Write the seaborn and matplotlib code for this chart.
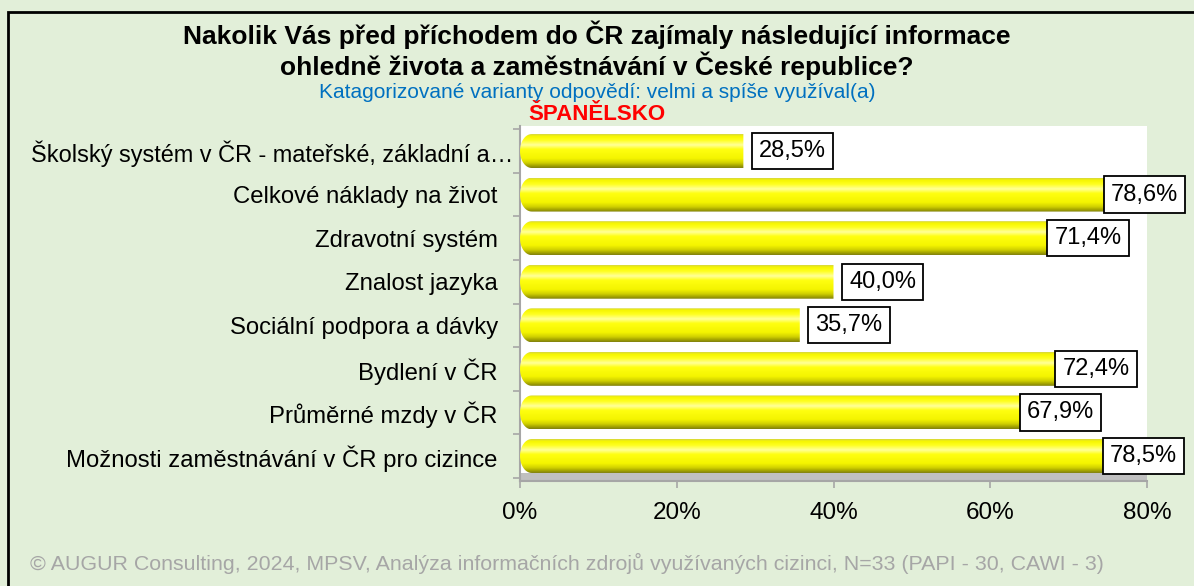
import numpy as np
import pandas as pd
import matplotlib
matplotlib.use("Agg")
import matplotlib.pyplot as plt
import seaborn as sns
from matplotlib.path import Path
from matplotlib.patches import PathPatch, Rectangle
from matplotlib.colors import LinearSegmentedColormap
from matplotlib.transforms import ScaledTranslation

categories = [
    "Školský systém v ČR - mateřské, základní a…",
    "Celkové náklady na život",
    "Zdravotní systém",
    "Znalost jazyka",
    "Sociální podpora a dávky",
    "Bydlení v ČR",
    "Průměrné mzdy v ČR",
    "Možnosti zaměstnávání v ČR pro cizince",
]
values = [28.5, 78.6, 71.4, 40.0, 35.7, 72.4, 67.9, 78.5]
xticks = [0, 20, 40, 60, 80]

title = "Nakolik Vás před příchodem do ČR zajímaly následující informace\nohledně života a zaměstnávání v České republice?"
subtitle = "Katagorizované varianty odpovědí: velmi a spíše využíval(a)"
country = "ŠPANĚLSKO"
footer = "© AUGUR Consulting, 2024, MPSV, Analýza informačních zdrojů využívaných cizinci, N=33 (PAPI - 30, CAWI - 3)"

df = pd.DataFrame({"cat": categories, "val": values})

sns.set_theme(style="white")
plt.rcParams["font.family"] = ["Liberation Sans", "DejaVu Sans"]

BG = "#E2EFD9"
W, H = 1194, 586
fig = plt.figure(figsize=(W / 100, H / 100), dpi=100, facecolor=BG)

# axes placement in pixels
ax_l, ax_r, ax_t, ax_b = 520, 1147, 126, 481
ax = fig.add_axes([ax_l / W, 1 - ax_b / H, (ax_r - ax_l) / W, (ax_b - ax_t) / H])
ax.set_facecolor("white")

sns.barplot(data=df, y="cat", x="val", orient="h", color="#FFFF00",
            width=0.78, ax=ax, zorder=3)

ax.set_xlim(0, 80)
ax.set_ylim(7.574, -0.574)

# cylinder-like gradient on bars
cmap = LinearSegmentedColormap.from_list("cyl", [
    (0.00, "#D6D640"),
    (0.06, "#F6F600"),
    (0.18, "#FFFF20"),
    (0.32, "#FFFF9A"),
    (0.45, "#FFFF10"),
    (0.72, "#F4F400"),
    (0.85, "#CFCF00"),
    (0.94, "#A0A000"),
    (1.00, "#808010"),
])
grad = np.linspace(0, 1, 200).reshape(-1, 1)
rx = 1.5
for p in list(ax.patches):
    x0, y0 = p.get_x(), p.get_y()
    w, h = p.get_width(), p.get_height()
    x1 = x0 + w
    p.set_visible(False)
    yc = y0 + h / 2
    th = np.linspace(np.pi / 2, 3 * np.pi / 2, 30)
    arc = [(x0 + rx + rx * np.cos(t), yc - (h / 2) * np.sin(t)) for t in th]
    verts = [(x1, y0)] + arc + [(x1, y0 + h), (x1, y0)]
    codes = [Path.MOVETO] + [Path.LINETO] * (len(verts) - 2) + [Path.CLOSEPOLY]
    clip = PathPatch(Path(verts, codes), transform=ax.transData,
                     facecolor="none", edgecolor="none")
    ax.add_patch(clip)
    im = ax.imshow(grad, cmap=cmap, extent=(x0, x1, y0 + h, y0), origin="upper",
                   aspect="auto", interpolation="bilinear", zorder=3)
    im.set_clip_path(clip)

ax.set_xlim(0, 80)
ax.set_ylim(7.574, -0.574)

# floor
ax.axhspan(7.39, 7.574, color="#C0C0C0", zorder=1, lw=0)

# data labels
for i, v in enumerate(values):
    lab = f"{v:.1f}".replace(".", ",") + "%"
    xpos = v - 3.2 if v > 60 else v + 2.0
    ax.text(xpos, i, lab, ha="left", va="center", fontsize=17, color="black",
            zorder=6, clip_on=False,
            bbox=dict(boxstyle="square,pad=0.3", facecolor="white",
                      edgecolor="black", linewidth=1.3))

# axes styling
for s in ["top", "right"]:
    ax.spines[s].set_visible(False)
ax.spines["left"].set_color("#A6A6A6")
ax.spines["bottom"].set_color("#A6A6A6")
ax.spines["left"].set_linewidth(1.5)
ax.spines["bottom"].set_linewidth(1.5)

ax.set_xticks(xticks)
ax.set_xticklabels([f"{t}%" for t in xticks])
ax.tick_params(axis="x", length=5, color="#A6A6A6", width=1.2, pad=10,
               labelsize=17.5, labelcolor="black", bottom=True)
ax.set_yticks(range(len(categories)))
ax.set_yticklabels(categories)
ax.tick_params(axis="y", length=0, pad=16, labelsize=17.2, labelcolor="black")
ax.set_yticks(np.arange(-0.5, len(categories), 1.0), minor=True)
ax.tick_params(axis="y", which="minor", length=5, color="#A6A6A6", width=1.2, left=True)
ax.set_xlabel("")
ax.set_ylabel("")
ax.grid(False)

# the truncated first label sits a bit closer to the axis, as in the original
first = ax.get_yticklabels()[0]
first.set_transform(first.get_transform() + ScaledTranslation(0.16, 0, fig.dpi_scale_trans))
first.set_fontsize(16.9)

# titles
fig.text(0.5, 1 - 50 / H, title, ha="center", va="center", fontsize=19,
         fontweight="bold", color="black", linespacing=1.1)
fig.text(0.5, 1 - 92 / H, subtitle, ha="center", va="center", fontsize=15,
         color="#0070C0")
fig.text(0.5, 1 - 115 / H, country, ha="center", va="center", fontsize=16,
         fontweight="bold", color="#FF0000")
fig.text(30 / W, 1 - 563 / H, footer, ha="left", va="center", fontsize=15.4,
         color="#A6A6A6")

# frame border (left and top visible)
fig.add_artist(Rectangle((8 / W, -0.1), 1.2, 1.1 - 12 / H,
                         transform=fig.transFigure, fill=False,
                         edgecolor="black", linewidth=2))

fig.savefig("out.png", dpi=100, facecolor=BG)
